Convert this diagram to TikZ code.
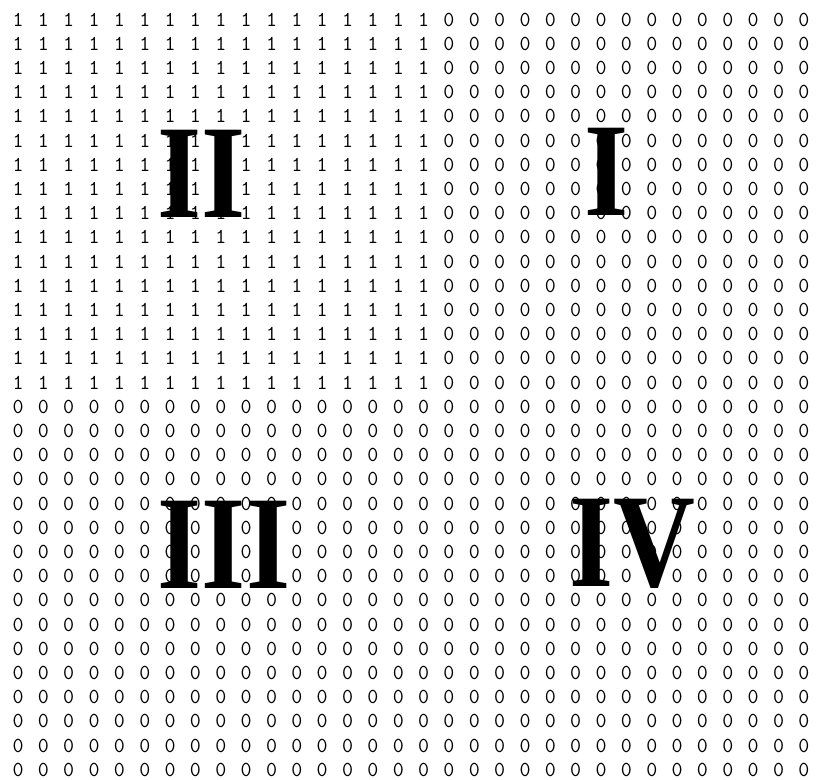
\documentclass[tikz,border=0pt]{standalone}
\usepackage{fontspec}
\setmainfont{Liberation Serif}
\usetikzlibrary{positioning}

\tikzset{
    bit/.style={inner sep=0pt, font=\ttfamily\fontsize{16}{16}\selectfont},
    region/.style={inner sep=0pt, xscale=0.85, font=\fontsize{100}{100}\selectfont\bfseries}
}

\begin{document}
\begin{tikzpicture}[x=0.75pt, y=-0.75pt]
    \useasboundingbox (0,0) rectangle (816,779);

    % Grid 32 x 32 : ones in the upper left block, zeros elsewhere
    \foreach \r in {0,...,31}{
        \foreach \c in {0,...,31}{
            \pgfmathtruncatemacro{\val}{and(\r<16, \c<17)}
            \node[bit] (b-\r-\c) at ({18+25.35*\c}, {19.5+24.2*\r}) {\val};
        }
    }

    % Region labels
    \node[region] (regII) at (202, 174) {II};
    \node[region] (regI) at (607, 172) {I};
    \node[region] (regIII) at (224, 545) {III};
    \node[region] (regIV) at (632, 544) {IV};
\end{tikzpicture}
\end{document}
